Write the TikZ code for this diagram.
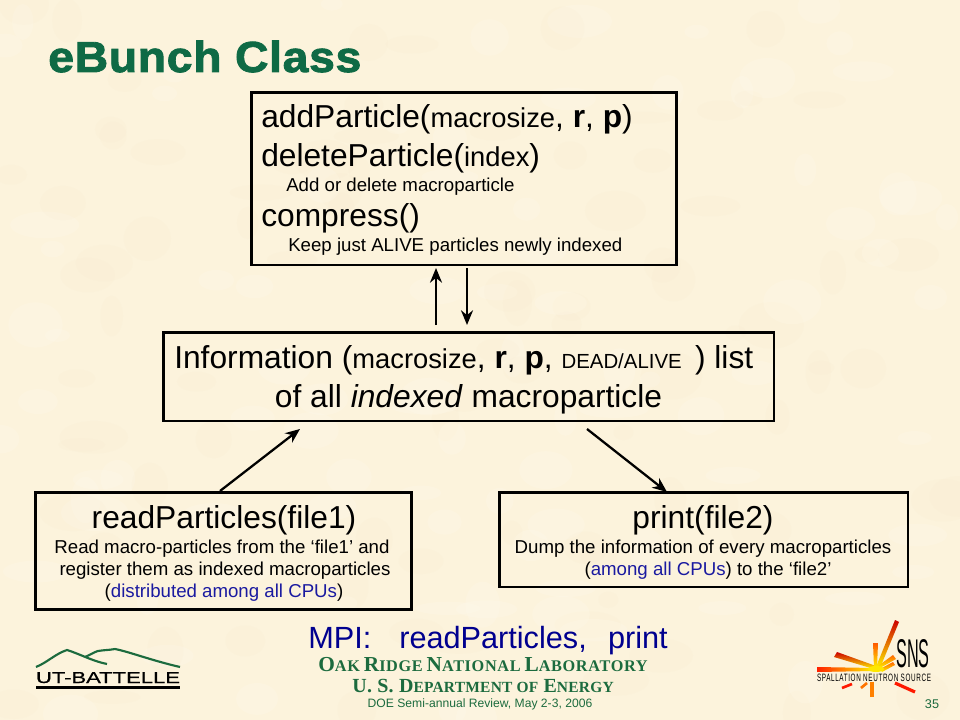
\documentclass[tikz,border=0pt]{standalone}
\usepackage{fontspec}
\setmainfont{Liberation Sans}
\newfontfamily\serifbold[Ligatures=TeX]{Liberation Serif}
\usetikzlibrary{arrows.meta}
\usepackage{xcolor}
\definecolor{fondbeige}{HTML}{FCF3DC}
\definecolor{taches}{HTML}{FFFAEC}
\definecolor{tachesb}{HTML}{F4E6C6}
\definecolor{vertsns}{HTML}{0F6A45}
\definecolor{vertoak}{HTML}{1C6B3E}
\definecolor{bleumpi}{HTML}{00008F}
\definecolor{bleucpu}{HTML}{1A1AA0}
\newcommand{\grand}{\fontsize{23.8}{28}\selectfont}
\newcommand{\moyen}{\fontsize{20.5}{24}\selectfont}
\newcommand{\petit}{\fontsize{14}{16}\selectfont}
\newcommand{\capsA}[1]{{\fontsize{16}{18}\selectfont #1}}
\newcommand{\capsB}[1]{{\fontsize{12.2}{18}\selectfont #1}}
\newcommand{\capsC}[1]{{\fontsize{11.6}{18}\selectfont #1}}
\tikzset{
    boite/.style={draw=black, line width=2pt, inner sep=0pt, anchor=north west},
    fleche/.style={-{Stealth[length=11pt,width=9pt]}, line width=1.7pt, black},
    texte/.style={inner sep=0pt, anchor=base west},
    centre/.style={inner sep=0pt, anchor=base},
}
\begin{document}
\begin{tikzpicture}[x=.75pt,y=-.75pt]
    % fond
    \fill[fondbeige] (0,0) rectangle (960,720);
    \useasboundingbox (0,0) rectangle (960,720);
    \pgfmathsetseed{35}
    \foreach \i in {1,...,90}{
        \fill[taches, opacity=.25] (rnd*960,rnd*720) ellipse ({10+rnd*25} and {6+rnd*18});
        \fill[tachesb, opacity=.1] (rnd*960,rnd*720) ellipse ({10+rnd*25} and {6+rnd*18});
    }
    % titre
    \node[texte, text=vertsns] (titre) at (48,72) {\fontsize{32.5}{36}\selectfont\bfseries\addfontfeature{FakeBold=2,FakeStretch=1.07,LetterSpace=1.5}eBunch Class};
    % boites
    \node[boite, minimum width=319pt, minimum height=129.5pt] (methodes) at (250,91) {};
    \node[boite, minimum width=458pt, minimum height=66.5pt] (info) at (162,331) {};
    \node[boite, minimum width=282pt, minimum height=88pt] (lecture) at (34,491) {};
    \node[boite, minimum width=306.5pt, minimum height=71pt] (ecriture) at (498,491) {};
    % boite du haut
    \node[texte] (l1) at (261,128) {\grand addParticle(\moyen macrosize\grand, \textbf{r}, \textbf{p})};
    \node[texte] (l2) at (261,167) {\grand deleteParticle(\moyen index\grand)};
    \node[texte] (l3) at (286,192) {\petit Add or delete macroparticle};
    \node[texte] (l4) at (261,227) {\grand compress()};
    \node[texte] (l5) at (288,252) {\petit Keep just ALIVE particles newly indexed};
    % boite du milieu
    \node[texte] (i1) at (174,368) {\grand Information (\moyen macrosize\grand, \textbf{r}, \textbf{p}, {\fontsize{15.3}{16}\selectfont DEAD/ALIVE}\grand\hspace{10pt})\ list};
    \node[centre] (i2) at (468.5,407) {\grand of all \textit{indexed} macroparticle};
    % boite de gauche
    \node[centre] (g1) at (224,528) {\grand readParticles(file1)};
    \node[centre] (g2) at (222,553) {\petit Read macro-particles from the ‘file1’ and};
    \node[centre] (g3) at (225,575) {\petit register them as indexed macroparticles};
    \node[centre] (g4) at (224,597) {\petit (\textcolor{bleucpu}{distributed among all CPUs})};
    % boite de droite
    \node[centre] (d1) at (703,528) {\grand print(file2)};
    \node[centre] (d2) at (703,553) {\petit Dump the information of every macroparticles};
    \node[centre] (d3) at (708,575) {\petit (\textcolor{bleucpu}{among all CPUs}) to the ‘file2’};
    % fleches
    \coordinate (hautA) at (436,268);
    \coordinate (basA) at (436,325);
    \coordinate (hautB) at (467,268);
    \coordinate (basB) at (467,325);
    \coordinate (gaucheA) at (220,491);
    \coordinate (gaucheB) at (300,429);
    \coordinate (droiteA) at (587,429);
    \coordinate (droiteB) at (667,492);
    \draw[fleche] (basA) -- (hautA);
    \draw[fleche] (hautB) -- (basB);
    \draw[fleche] (gaucheA) -- (gaucheB);
    \draw[fleche] (droiteA) -- (droiteB);
    % bas de page
    \node[texte, text=bleumpi] (mpi) at (308,648) {\fontsize{23}{26}\selectfont MPI:\hspace{21pt}readParticles,\hspace{16pt}print};
    \node[centre, text=vertoak] (oak) at (483,671) {\serifbold\bfseries\addfontfeature{LetterSpace=4}\capsA{O}\capsB{AK} \capsA{R}\capsB{IDGE} \capsA{N}\capsB{ATIONAL} \capsA{L}\capsB{ABORATORY}};
    \node[centre, text=vertoak] (doe) at (483,692) {\serifbold\bfseries\addfontfeature{LetterSpace=1.5}\fontsize{15}{18}\selectfont U. S. D\capsC{EPARTMENT OF} E\capsC{NERGY}};
    \node[centre, text=vertoak] (revue) at (480,707) {\fontsize{9.1}{10}\selectfont DOE Semi-annual Review, May 2-3, 2006};
    \node[centre, text=vertoak] (page) at (932,708) {\fontsize{9.5}{10}\selectfont 35};
    % logo ut-battelle
    \draw[vertoak, line width=1.6pt] (36,667) .. controls (48,662) and (55,654) .. (67,650) .. controls (80,654) and (92,661) .. (107,664);
    \draw[vertoak, line width=1.6pt] (85,657) .. controls (90,655) and (94,652) .. (98,651) .. controls (104,650) and (110,650) .. (115,649) .. controls (130,652) and (150,660) .. (180,667);
    \node[centre] (battelle) at (108,683) {\resizebox{108pt}{8.2pt}{\addfontfeature{FakeBold=.5}UT-BATTELLE}};
    \fill[black] (36,686) rectangle (180,689);
    % logo sns
    \shade[left color=red!75!orange, right color=yellow!90!orange] (817,667) -- (874,668) -- (874,671) -- (817,672) -- cycle;
    \shade[shading angle=-70, top color=red!80!black, bottom color=yellow!90!orange] (834,657) -- (837,652) -- (876,666) -- (874,669) -- cycle;
    \shade[shading angle=-25, top color=red!80!black, bottom color=yellow!90!orange] (895,620) -- (899,622) -- (880,668) -- (876,667) -- cycle;
    \shade[top color=orange!70!red, bottom color=yellow!90!orange] (873,643) -- (878,643) -- (877,668) -- (874,668) -- cycle;
    \shade[shading angle=60, top color=orange!80!red, bottom color=yellow!90!orange] (893,655) -- (896,659) -- (880,668) -- (878,666) -- cycle;
    \shade[shading angle=60, top color=orange!80!red, bottom color=yellow!90!orange] (893,662) -- (895,665) -- (882,672) -- (880,669) -- cycle;
    \fill[yellow!90!orange] (876,669) ellipse (8 and 3);
    \draw[red!80!orange, line width=2pt] (842,688) -- (852,684);
    \draw[orange!90!red, line width=2pt] (861,688) -- (867,683);
    \draw[orange, line width=2.4pt] (872,697) -- (872,682);
    \draw[red!80!orange, line width=2.4pt] (895,683) -- (915,692);
    \node[centre, text=black] (sns) at (913,667) {\resizebox{25pt}{21pt}{SNS}};
    \node[centre, text=black] (spallation) at (874,681) {\resizebox{85.5pt}{5.6pt}{\addfontfeature{LetterSpace=10}SPALLATION NEUTRON SOURCE}};
\end{tikzpicture}
\end{document}
